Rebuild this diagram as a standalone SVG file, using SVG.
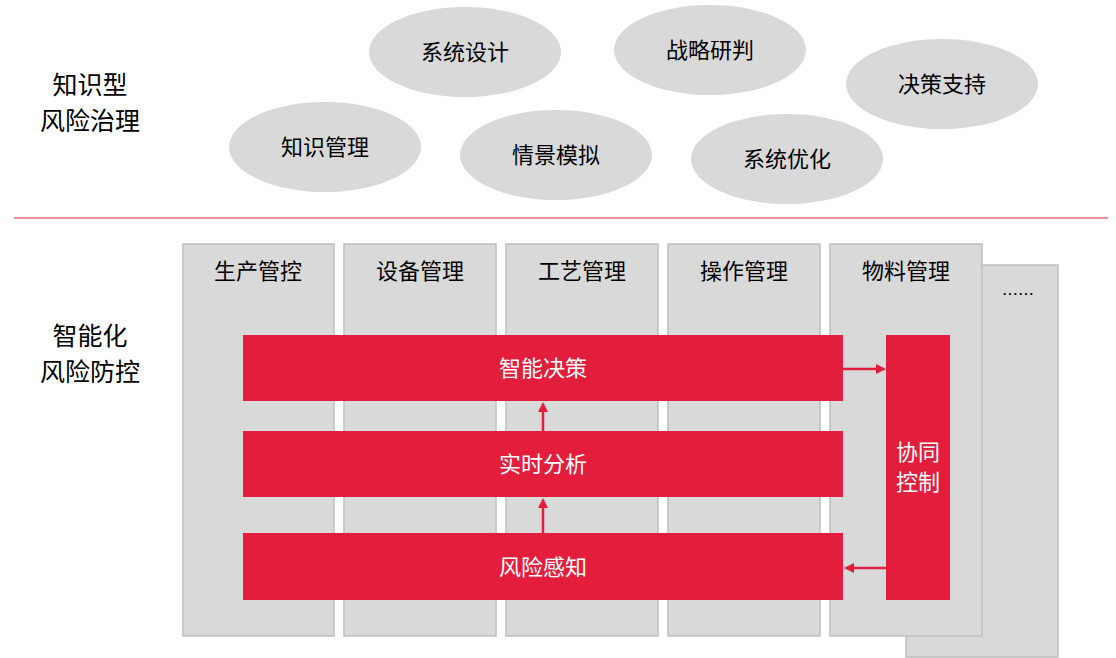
<svg xmlns="http://www.w3.org/2000/svg" width="1116" height="658" viewBox="0 0 1116 658">
<style>
text{font-family:"Noto Sans CJK SC","Liberation Sans",sans-serif;font-size:22px;fill:#000}
.e{fill:#d9d9d9}
.c{fill:#d9d9d9;stroke:#bfbfbf;stroke-width:1.5}
.r{fill:#e31e3c}
.w{fill:#fff}
.t{text-anchor:middle}
.l{font-size:25px}
.a{stroke:#e31e3c;stroke-width:2.5;fill:none;marker-end:url(#m)}
</style>
<defs><marker id="m" viewBox="0 0 10 10" refX="8" refY="5" markerWidth="4" markerHeight="4" orient="auto"><path d="M0,0L10,5L0,10z" fill="#e31e3c"/></marker></defs>
<rect width="1116" height="658" fill="#fff"/>
<text class="l t" x="90" y="94">知识型</text>
<text class="l t" x="90" y="130">风险治理</text>
<text class="l t" x="90" y="345">智能化</text>
<text class="l t" x="90" y="381">风险防控</text>
<line x1="14" y1="218" x2="1108" y2="218" stroke="#e31e3c" stroke-width="1.2"/>
<g id="n1"><ellipse class="e" cx="325" cy="147" rx="96" ry="45"/><text class="t" x="325" y="155">知识管理</text></g>
<g id="n2"><ellipse class="e" cx="465" cy="52" rx="96" ry="45"/><text class="t" x="465" y="60">系统设计</text></g>
<g id="n3"><ellipse class="e" cx="556" cy="155" rx="96" ry="45"/><text class="t" x="556" y="163">情景模拟</text></g>
<g id="n4"><ellipse class="e" cx="710" cy="50" rx="96" ry="45"/><text class="t" x="710" y="58">战略研判</text></g>
<g id="n5"><ellipse class="e" cx="787" cy="159" rx="96" ry="45"/><text class="t" x="787" y="167">系统优化</text></g>
<g id="n6"><ellipse class="e" cx="942" cy="84" rx="96" ry="45"/><text class="t" x="942" y="92">决策支持</text></g>
<g id="col6"><rect class="c" x="906" y="265" width="152" height="392"/><text class="t" x="1018" y="300" style="font-size:16px">……</text></g>
<g id="col1"><rect class="c" x="183" y="244" width="151" height="392"/><text class="t" x="258" y="279">生产管控</text></g>
<g id="col2"><rect class="c" x="344" y="244" width="152" height="392"/><text class="t" x="420" y="279">设备管理</text></g>
<g id="col3"><rect class="c" x="506" y="244" width="152" height="392"/><text class="t" x="582" y="279">工艺管理</text></g>
<g id="col4"><rect class="c" x="668" y="244" width="152" height="392"/><text class="t" x="744" y="279">操作管理</text></g>
<g id="col5"><rect class="c" x="830" y="244" width="152" height="392"/><text class="t" x="906" y="279">物料管理</text></g>
<g id="b1"><rect class="r" x="243" y="335" width="600" height="66"/><text class="t w" x="543" y="376" style="fill:#fff">智能决策</text></g>
<g id="b2"><rect class="r" x="243" y="431" width="600" height="66"/><text class="t" x="543" y="472" style="fill:#fff">实时分析</text></g>
<g id="b3"><rect class="r" x="243" y="533" width="600" height="67"/><text class="t" x="543" y="575" style="fill:#fff">风险感知</text></g>
<g id="b4"><rect class="r" x="886" y="335" width="64" height="265"/><text class="t" x="918" y="460" style="fill:#fff">协同</text><text class="t" x="918" y="490" style="fill:#fff">控制</text></g>
<g id="connectors">
<line class="a" x1="843" y1="369" x2="884" y2="369"/>
<line class="a" x1="886" y1="568" x2="846" y2="568"/>
<line class="a" x1="543" y1="431" x2="543" y2="404"/>
<line class="a" x1="543" y1="533" x2="543" y2="500"/>
</g>
</svg>
